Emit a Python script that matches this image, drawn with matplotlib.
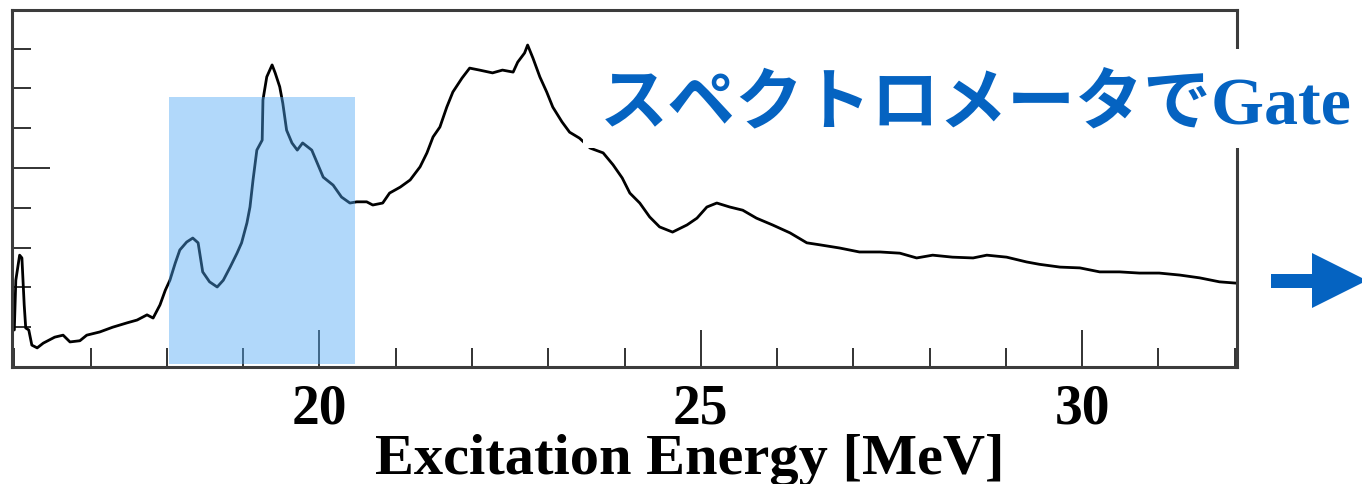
import matplotlib
matplotlib.use("Agg")
import matplotlib.pyplot as plt
from matplotlib.patches import Rectangle, Polygon
from matplotlib.ticker import FixedLocator, MultipleLocator

# Excitation-energy spectrum (MeV, counts)
energy = [
    15.97, 16.00, 16.02, 16.07, 16.10, 16.13, 16.15, 16.19, 16.23, 16.30,
    16.38, 16.53, 16.64, 16.73, 16.86, 16.95, 17.12, 17.29, 17.48, 17.61,
    17.74, 17.82, 17.91, 17.98, 18.04, 18.11, 18.17, 18.26, 18.34, 18.41,
    18.47, 18.56, 18.66, 18.74, 18.83, 18.92, 18.98, 19.05, 19.09, 19.13,
    19.18, 19.25, 19.26, 19.31, 19.38, 19.42, 19.48, 19.52, 19.57, 19.64,
    19.71, 19.78, 19.90, 19.97, 20.05, 20.18, 20.29, 20.40, 20.49, 20.62,
    20.70, 20.83, 20.92, 21.06, 21.19, 21.32, 21.41, 21.49, 21.58, 21.67,
    21.75, 21.87, 21.97, 22.10, 22.27, 22.40, 22.54, 22.60, 22.69, 22.73,
    22.80, 22.89, 22.98, 23.06, 23.18, 23.28, 23.41, 23.55, 23.72, 23.85,
    23.97, 24.07, 24.20, 24.33, 24.46, 24.63, 24.82, 24.95, 25.08, 25.21,
    25.38, 25.55, 25.73, 25.94, 26.17, 26.39, 26.56, 26.82, 27.08, 27.35,
    27.61, 27.83, 28.04, 28.30, 28.57, 28.75, 29.01, 29.27, 29.44, 29.71,
    29.97, 30.23, 30.49, 30.75, 31.01, 31.28, 31.54, 31.80, 32.00,
]
counts = [
    100, 93, 218, 281, 274, 156, 98, 93, 55, 48,
    60, 75, 80, 63, 66, 80, 88, 100, 111, 118,
    131, 123, 156, 193, 218, 261, 294, 314, 324, 312,
    239, 214, 201, 218, 251, 286, 312, 362, 402, 470,
    545, 570, 671, 729, 759, 739, 704, 663, 595, 563,
    545, 563, 545, 513, 477, 457, 427, 412, 415, 415,
    407, 412, 437, 452, 470, 503, 538, 578, 603, 653,
    691, 726, 751, 746, 739, 746, 741, 766, 789, 809,
    776, 729, 691, 653, 616, 590, 575, 550, 538, 508,
    475, 437, 412, 377, 352, 339, 357, 374, 402, 412,
    402, 394, 374, 357, 337, 312, 307, 299, 289, 289,
    286, 274, 281, 276, 274, 281, 276, 264, 258, 251,
    249, 239, 239, 236, 236, 231, 224, 214, 211,
]

gate_low, gate_high = 18.03, 20.47
gate_top = 678
x_major_ticks = [20, 25, 30]
gate_caption = "スペクトロメータでGate"
x_title = "Excitation Energy [MeV]"

plt.rcParams["font.family"] = "Liberation Serif"
plt.rcParams["font.weight"] = "bold"

W, H = 1362, 484
fig = plt.figure(figsize=(W / 100, H / 100), dpi=100)
ax = fig.add_axes([12 / W, 1 - 367 / H, (1237 - 12) / W, (367 - 10) / H])

ax.plot(energy, counts, color="black", lw=2.0, zorder=2)
ax.add_patch(Rectangle((gate_low, 8), gate_high - gate_low, gate_top - 8,
                       facecolor="#4ea7f4", alpha=0.44, lw=0, zorder=4))

ax.set_xlim(15.97, 32.03)
ax.set_ylim(0, 897)
ax.xaxis.set_major_locator(FixedLocator(x_major_ticks))
ax.xaxis.set_minor_locator(MultipleLocator(1))
ax.yaxis.set_major_locator(MultipleLocator(500))
ax.yaxis.set_minor_locator(MultipleLocator(100))
ax.tick_params(which="both", direction="in", top=False, right=False,
               color="#222222", width=1.3)
ax.tick_params(which="major", length=27)
ax.tick_params(which="minor", length=13.5)
ax.tick_params(axis="y", labelleft=False)
ax.tick_params(axis="x", labelsize=40, pad=12)
for sp in ax.spines.values():
    sp.set_linewidth(2.2)
    sp.set_color("#3c3c3c")

fig.text(690 / W, 1 - 474 / H, x_title, ha="center", va="baseline",
         fontsize=42, fontweight="bold", family="Liberation Serif")

# white panel behind the caption
fig.patches.append(Rectangle((583 / W, 1 - 148 / H), (W - 583) / W, 99 / H,
                             transform=fig.transFigure, facecolor="white",
                             edgecolor="none", zorder=5))
fig.text(600 / W, 1 - 123 / H, gate_caption, ha="left", va="baseline",
         fontsize=49, fontweight="bold", color="#0563c1",
         family=["Liberation Serif", "Noto Sans CJK JP"], zorder=6)

# right-pointing arrow
arrow_px = [(1271, 274), (1312, 274), (1312, 253), (1367, 280.5),
            (1312, 308), (1312, 288), (1271, 288)]
fig.patches.append(Polygon([(x / W, 1 - y / H) for x, y in arrow_px],
                           closed=True, transform=fig.transFigure,
                           facecolor="#0563c1", edgecolor="none", zorder=6))

fig.savefig("out.png", dpi=100, facecolor="white")
